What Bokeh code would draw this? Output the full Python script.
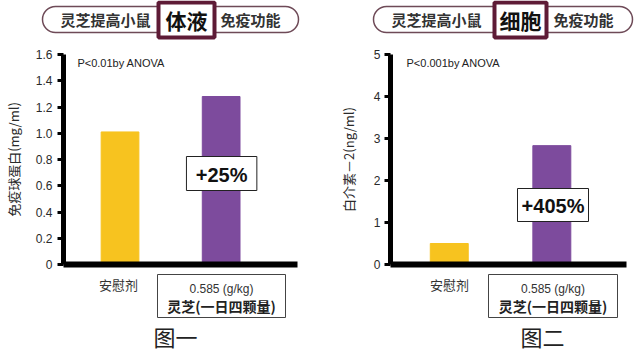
from bokeh.plotting import figure
from bokeh.models import Label, BoxAnnotation, Range1d, ColumnDataSource
from bokeh.layouts import row, column
from bokeh.embed import file_html
from bokeh.resources import INLINE

# ---------------- data ----------------
groups = ["安慰剂", "灵芝"]
group_x = [1, 2]
igg_values = [1.01, 1.28]          # 免疫球蛋白 (mg/ml)
il2_values = [0.5, 2.83]           # 白介素-2 (ng/ml)
bar_colors = ["#F7C31F", "#7D4B9D"]
igg_ticks = [0, 0.2, 0.4, 0.6, 0.8, 1.0, 1.2, 1.4, 1.6]
igg_tick_labels = ["0", "0.2", "0.4", "0.6", "0.8", "1.0", "1.2", "1.4", "1.6"]
il2_ticks = [0, 1, 2, 3, 4, 5]
il2_tick_labels = ["0", "1", "2", "3", "4", "5"]
igg_increase = "+25%"
il2_increase = "+405%"
igg_p = "P<0.01by ANOVA"
il2_p = "P<0.001by ANOVA"
dose_text = "0.585 (g/kg)"
dose_name = "灵芝(一日四颗量)"
title_pre = "灵芝提高小鼠"
title_post = "免疫功能"

CJK = "Noto Sans CJK SC"
LAT = "Liberation Sans"
MAROON = "#5E1B36"

TITLE_H = 46          # page rows 0..46
CHART_TOP = 46        # chart figures occupy page rows 46..272
CHART_H = 226
FRAME_TOP, FRAME_BOTTOM, FRAME_W = 54, 264, 236
BOTTOM_TOP = CHART_TOP + CHART_H
BOTTOM_H = 354 - BOTTOM_TOP


def deco_figure(height, top):
    f = figure(width=640, height=height, x_range=Range1d(0, 640),
               y_range=Range1d(top + height, top), x_axis_type=None, y_axis_type=None,
               min_border=0, output_backend="svg", toolbar_location=None)
    f.outline_line_color = None
    f.grid.visible = False
    f.background_fill_color = "white"
    f.border_fill_color = "white"
    return f


def add_box(f, l, r, t, b, color, width, radius=0):
    f.add_layout(BoxAnnotation(left=l, right=r, top=t, bottom=b,
                               fill_color="white", fill_alpha=1,
                               line_color=color, line_alpha=1, line_width=width,
                               border_radius=radius))


def add_label(f, x, y, text, size, font=CJK, style="normal", color="#333333", align="center"):
    f.add_layout(Label(x=x, y=y, text=text, text_font=font,
                       text_font_size=size, text_font_style=style, text_color=color,
                       text_align=align, text_baseline="middle"))


def build_chart(cfg):
    off = cfg["offset"]
    fl = cfg["frame_left"]
    xs, xe = cfg["x_range"]
    ye = cfg["y_end"]

    def dx(px):
        return xs + (px - off - fl) / FRAME_W * (xe - xs)

    def dy(py):
        return (FRAME_BOTTOM - py) / (FRAME_BOTTOM - FRAME_TOP) * ye

    p = figure(width=320, height=CHART_H,
               min_border_left=fl, min_border_right=320 - fl - FRAME_W,
               min_border_top=FRAME_TOP - CHART_TOP,
               min_border_bottom=CHART_TOP + CHART_H - FRAME_BOTTOM,
               x_range=Range1d(xs, xe), y_range=Range1d(0, ye),
               output_backend="svg", toolbar_location=None)
    p.outline_line_color = None
    p.grid.visible = False
    p.background_fill_color = "white"
    p.border_fill_color = "white"

    src = ColumnDataSource(dict(x=group_x, top=cfg["values"], color=bar_colors))
    p.vbar(x="x", top="top", width=cfg["bar_w"], color="color", source=src)

    ya = p.yaxis[0]
    ya.ticker = cfg["ticks"]
    ya.major_label_overrides = dict(zip(cfg["ticks"], cfg["tick_labels"]))
    ya.axis_line_width = 5
    ya.axis_line_color = "black"
    ya.major_tick_line_width = 3
    ya.major_tick_out = 6
    ya.major_tick_in = 0
    ya.minor_tick_line_color = None
    ya.major_label_text_font = LAT
    ya.major_label_text_font_size = "12px"
    ya.major_label_text_color = "#2a2a2a"
    ya.major_label_standoff = cfg["label_standoff"]
    ya.axis_label = cfg["ylabel"]
    ya.axis_label_text_font = CJK
    ya.axis_label_text_font_size = "13px"
    ya.axis_label_text_font_style = "normal"
    ya.axis_label_text_color = "#2a2a2a"
    ya.axis_label_standoff = cfg["axis_label_standoff"]

    xa = p.xaxis[0]
    xa.ticker = []
    xa.axis_line_width = 6
    xa.axis_line_color = "black"
    xa.major_tick_line_color = None
    xa.minor_tick_line_color = None
    xa.major_tick_out = 0
    xa.major_tick_in = 0
    xa.major_label_standoff = 0
    xa.major_label_text_font_size = "0px"

    # p value
    p.add_layout(Label(x=dx(cfg["p_x"]), y=dy(62), text=cfg["p_text"], text_font=LAT,
                       text_font_size="11px", text_color="#222222",
                       text_align="left", text_baseline="middle"))
    # increase box
    il, ir, it, ib = cfg["inc_box"]
    p.add_layout(BoxAnnotation(left=dx(il), right=dx(ir), top=dy(it), bottom=dy(ib),
                               fill_color="white", fill_alpha=1,
                               line_color="#222222", line_alpha=1, line_width=1))
    p.add_layout(Label(x=dx((il + ir) / 2), y=dy((it + ib) / 2 + 1), text=cfg["inc"],
                       text_font=LAT, text_font_size="20px", text_font_style="bold",
                       text_color="#111111", text_align="center", text_baseline="middle"))
    return p


left_cfg = dict(offset=0, frame_left=61, x_range=(0.441, 2.755), y_end=1.6,
                values=igg_values, bar_w=0.373, ticks=igg_ticks, tick_labels=igg_tick_labels,
                label_standoff=5, axis_label_standoff=10,
                ylabel="免疫球蛋白(mg/ml)",
                pill=(42, 298), hl=(156, 216), pre_x=105, post_x=250, title_mid="体液",
                p_x=75, p_text=igg_p, inc_box=(185, 256, 156, 190), inc=igg_increase,
                cat_x=118, dose_box=(157, 285), cap_x=175, caption="图一")

right_cfg = dict(offset=320, frame_left=70, x_range=(0.427, 2.728), y_end=5,
                 values=il2_values, bar_w=0.37, ticks=il2_ticks, tick_labels=il2_tick_labels,
                 label_standoff=4, axis_label_standoff=13,
                 ylabel="白介素－2(ng/ml)",
                 pill=(373, 632), hl=(492, 548), pre_x=436, post_x=583, title_mid="细胞",
                 p_x=406, p_text=il2_p, inc_box=(517, 588, 188, 221), inc=il2_increase,
                 cat_x=449, dose_box=(488, 617), cap_x=542, caption="图二")

p1 = build_chart(left_cfg)
p2 = build_chart(right_cfg)

# title strip
top_fig = deco_figure(TITLE_H, 0)
for cfg in (left_cfg, right_cfg):
    pl, pr = cfg["pill"]
    add_box(top_fig, pl, pr, 6, 32, "#6E4A57", 1.5, 13)
    hl, hr = cfg["hl"]
    add_box(top_fig, hl + 2, hr - 2, 2, 37, MAROON, 4)
    add_label(top_fig, cfg["pre_x"], 19, title_pre, "15px", style="bold")
    add_label(top_fig, (hl + hr) / 2, 19, cfg["title_mid"], "21px", style="bold", color="#111111")
    add_label(top_fig, cfg["post_x"], 19, title_post, "15px", style="bold")

# bottom strip: category labels and captions
bot_fig = deco_figure(BOTTOM_H, BOTTOM_TOP)
for cfg in (left_cfg, right_cfg):
    add_label(bot_fig, cfg["cat_x"], 284, groups[0], "13px")
    dl, dr = cfg["dose_box"]
    add_box(bot_fig, dl, dr, 274, 317, "#444444", 1)
    add_label(bot_fig, (dl + dr) / 2, 288, dose_text, "12px", font=LAT)
    add_label(bot_fig, (dl + dr) / 2, 305, dose_name, "14px", style="bold", color="#222222")
    add_label(bot_fig, cfg["cap_x"], 335, cfg["caption"], "22px", color="#222222")

layout = column(top_fig, row(p1, p2), bot_fig)

open("out.html", "w").write(file_html(layout, INLINE))
